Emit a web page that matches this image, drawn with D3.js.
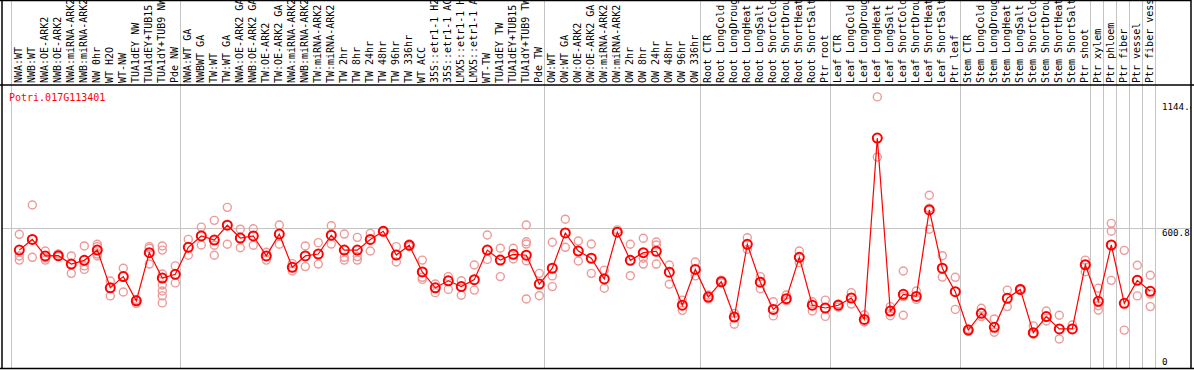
<!DOCTYPE html>
<html>
<head>
<meta charset="utf-8">
<script src="https://cdn.jsdelivr.net/npm/d3@7"></script>
<style>
  body { margin: 0; background: #fff; }
  svg { display: block; }
  text { font-family: "DejaVu Sans Mono", monospace; font-size: 10px; }
</style>
</head>
<body>
<div id="chart"></div>
<script>
var geneName = "Potri.017G113401";

var labels = [
  "NWA:WT", "NWB:WT", "NWA:OE-ARK2", "NWB:OE-ARK2", "NWA:miRNA-ARK2", "NWB:miRNA-ARK2", "NW 0hr", "WT H2O", "WT-NW",
  "TUA1dEY NW", "TUA1dEY+TUB15 NW", "TUA1dY+TUB9 NW", "Pde NW",
  "NWA:WT GA", "NWBWT GA", "TW:WT", "TW:WT GA", "NWA:OE-ARK2 GA", "NWB:OE-ARK2 GA", "TW:OE-ARK2", "TW:OE-ARK2 GA",
  "NWA:miRNA-ARK2", "NWB:miRNA-ARK2", "TW:miRNA-ARK2", "TW:miRNA-ARK2", "TW 2hr", "TW 8hr", "TW 24hr", "TW 48hr",
  "TW 96hr", "TW 336hr", "WT ACC", "35S::etr1-1 H2O", "35S::etr1-1 ACC", "LMX5::etr1-1 H2O", "LMX5::etr1-1 ACC",
  "WT-TW", "TUA1dEY TW", "TUA1dEY+TUB15 TW", "TUA1dY+TUB9 TW", "Pde TW",
  "OW:WT", "OW:WT GA", "OW:OE-ARK2", "OW:OE-ARK2 GA", "OW:miRNA-ARK2", "OW:miRNA-ARK2", "OW 2hr", "OW 8hr",
  "OW 24hr", "OW 48hr", "OW 96hr", "OW 336hr",
  "Root CTR", "Root LongCold", "Root LongDrought", "Root LongHeat", "Root LongSalt", "Root ShortCold",
  "Root ShortDrought", "Root ShortHeat", "Root ShortSalt", "Ptr root",
  "Leaf CTR", "Leaf LongCold", "Leaf LongDrought", "Leaf LongHeat", "Leaf LongSalt", "Leaf ShortCold",
  "Leaf ShortDrought", "Leaf ShortHeat", "Leaf ShortSalt", "Ptr leaf",
  "Stem CTR", "Stem LongCold", "Stem LongDrought", "Stem LongHeat", "Stem LongSalt", "Stem ShortCold",
  "Stem ShortDrought", "Stem ShortHeat", "Stem ShortSalt", "Ptr shoot",
  "Ptr xylem", "Ptr phloem", "Ptr fiber", "Ptr vessel", "Ptr fiber vessel"
];

// index of the first sample of each block (grey separators)
var groupStarts = [0, 13, 41, 53, 63, 73, 83, 84, 85, 86, 87];

var means = [
  507, 553, 482, 483, 447, 463, 507, 345, 393, 289, 496, 387, 403,
  519, 568, 550, 614, 559, 568, 482, 576, 433, 482, 490, 571, 507, 507, 553, 588,
  486, 528, 413, 345, 375, 350, 380, 507, 464, 489, 485, 361,
  429, 581, 503, 472, 383, 584, 463, 496, 502, 412, 270, 424,
  305, 371, 219, 532, 369, 252, 298, 476, 270, 258,
  270, 301, 209, 989, 245, 317, 308, 680, 429, 328,
  163, 235, 175, 300, 338, 152, 221, 168, 168, 444,
  287, 529, 278, 377, 330
];

var replicates = [
  [575, 482, 464], [701, 476], [503, 473, 464], [490, 479], [482, 407], [525, 439, 424],
  [532, 522, 490, 482], [374, 310], [429, 327], [295, 278], [522, 515, 447],
  [525, 507, 404, 357, 331, 310, 280], [439, 366],
  [553, 485], [606, 529], [635, 528, 485], [691, 532], [597, 517], [599, 528], [498, 464],
  [615, 532], [449, 417], [525, 436], [539, 447], [612, 533], [576, 476, 464], [562, 479, 464],
  [579, 503], [590, 585], [522, 456], [533, 522], [464, 390, 381], [361, 324], [393, 338],
  [375, 313], [443, 335], [572, 467], [515, 393], [515, 469], [615, 543, 533, 461, 297], [407, 311],
  [541, 396, 350], [640, 519], [546, 460], [533, 407], [421, 343], [594], [532, 397],
  [558, 472, 447], [542, 529, 447], [443, 360], [292, 248], [456, 396],
  [314, 297], [378, 366], [235, 188], [560, 510], [393, 341], [285, 224], [314, 289],
  [503, 453], [285, 245], [292, 222],
  [275, 262], [324, 275], [229, 198], [1166, 907], [264, 225], [417, 307, 227], [331, 295],
  [743, 687, 597], [483, 391], [390, 252],
  [168, 158], [257, 221], [211, 154], [335, 264], [341, 335], [181, 145], [245, 202],
  [227, 125], [185], [464, 414],
  [343, 268, 249], [622, 588, 377], [506, 163], [442, 310], [399, 318, 264]
];

var axisTicks = [0, 600.8, 1144];
var axisTickLabels = ["0", "600.8", "1144.4"];

var width = 1194, height = 370;
var headerBottom = 85, plotBottom = 368, plotLeft = 2, plotRight = 1191;

var svg = d3.select("#chart").append("svg").attr("width", width).attr("height", height);

var x = d3.scaleBand().domain(d3.range(labels.length)).range([11.3, 1155.3]).padding(0);
var y = d3.scaleLinear().domain([0, 1144]).range([plotBottom, 102]);

var cx = function(i) {
  return x(i) + 8;
};

// grey grid
var grid = svg.append("g").attr("stroke", "#c4c4c4").attr("stroke-width", 1);
var seps = groupStarts.map(function(i) { return x(i); }).concat([x(labels.length - 1) + x.bandwidth()]);
grid.selectAll("line.sep").data(seps).enter().append("line").attr("class", "sep")
  .attr("x1", function(d) { return Math.round(d) + 0.5; })
  .attr("x2", function(d) { return Math.round(d) + 0.5; })
  .attr("y1", 0).attr("y2", plotBottom);
grid.append("line").attr("x1", plotLeft).attr("x2", plotRight)
  .attr("y1", Math.round(y(600.8)) + 0.5).attr("y2", Math.round(y(600.8)) + 0.5);

// frame
var frame = svg.append("g").attr("stroke", "#000").attr("stroke-width", 1.5);
frame.append("line").attr("x1", 0).attr("x2", width).attr("y1", headerBottom).attr("y2", headerBottom);
frame.append("line").attr("x1", 0).attr("x2", width).attr("y1", plotBottom + 0.5).attr("y2", plotBottom + 0.5);
frame.append("line").attr("x1", 0).attr("x2", plotRight).attr("y1", 0.5).attr("y2", 0.5);
frame.append("line").attr("x1", plotLeft).attr("x2", plotLeft).attr("y1", 0).attr("y2", plotBottom);
frame.append("line").attr("x1", plotRight).attr("x2", plotRight).attr("y1", 0).attr("y2", plotBottom);

// sample labels, rotated
svg.append("g").selectAll("text").data(labels).enter().append("text")
  .attr("transform", function(d, i) {
    return "translate(" + (cx(i) + 3) + "," + (headerBottom - 2) + ") rotate(-90)";
  })
  .attr("fill", "#000")
  .text(function(d) { return d; });

// gene name
svg.append("text").attr("x", 9).attr("y", 101).attr("fill", "#ff0000").text(geneName);

// right axis labels, clipped at the frame
svg.append("clipPath").attr("id", "axclip").append("rect")
  .attr("x", 1156).attr("y", 86).attr("width", plotRight - 1156).attr("height", plotBottom - 86);
svg.append("g").attr("clip-path", "url(#axclip)").selectAll("text").data(axisTicks).enter().append("text")
  .attr("x", 1162)
  .attr("y", function(d, i) {
    return i === 0 ? plotBottom - 3 : y(d) + 8;
  })
  .attr("fill", "#000")
  .style("font-size", "9.2px")
  .text(function(d, i) { return axisTickLabels[i]; });

// replicate points
var repPts = [];
replicates.forEach(function(r, i) {
  r.forEach(function(v) {
    repPts.push({ i: i, v: v });
  });
});
svg.append("g").selectAll("circle").data(repPts).enter().append("circle")
  .attr("cx", function(d) { return cx(d.i); })
  .attr("cy", function(d) { return y(d.v); })
  .attr("r", 4)
  .attr("fill", "none")
  .attr("stroke", "#ec9a9a")
  .attr("stroke-width", 1.4);

// mean line
var line = d3.line()
  .x(function(d, i) { return cx(i); })
  .y(function(d) { return y(d); });
svg.append("path").datum(means).attr("d", line)
  .attr("fill", "none").attr("stroke", "#ff0000").attr("stroke-width", 1.2);

// mean points
svg.append("g").selectAll("circle").data(means).enter().append("circle")
  .attr("cx", function(d, i) { return cx(i); })
  .attr("cy", function(d) { return y(d); })
  .attr("r", 4.5)
  .attr("fill", "none")
  .attr("stroke", "#ff0000")
  .attr("stroke-width", 2);
</script>
</body>
</html>
